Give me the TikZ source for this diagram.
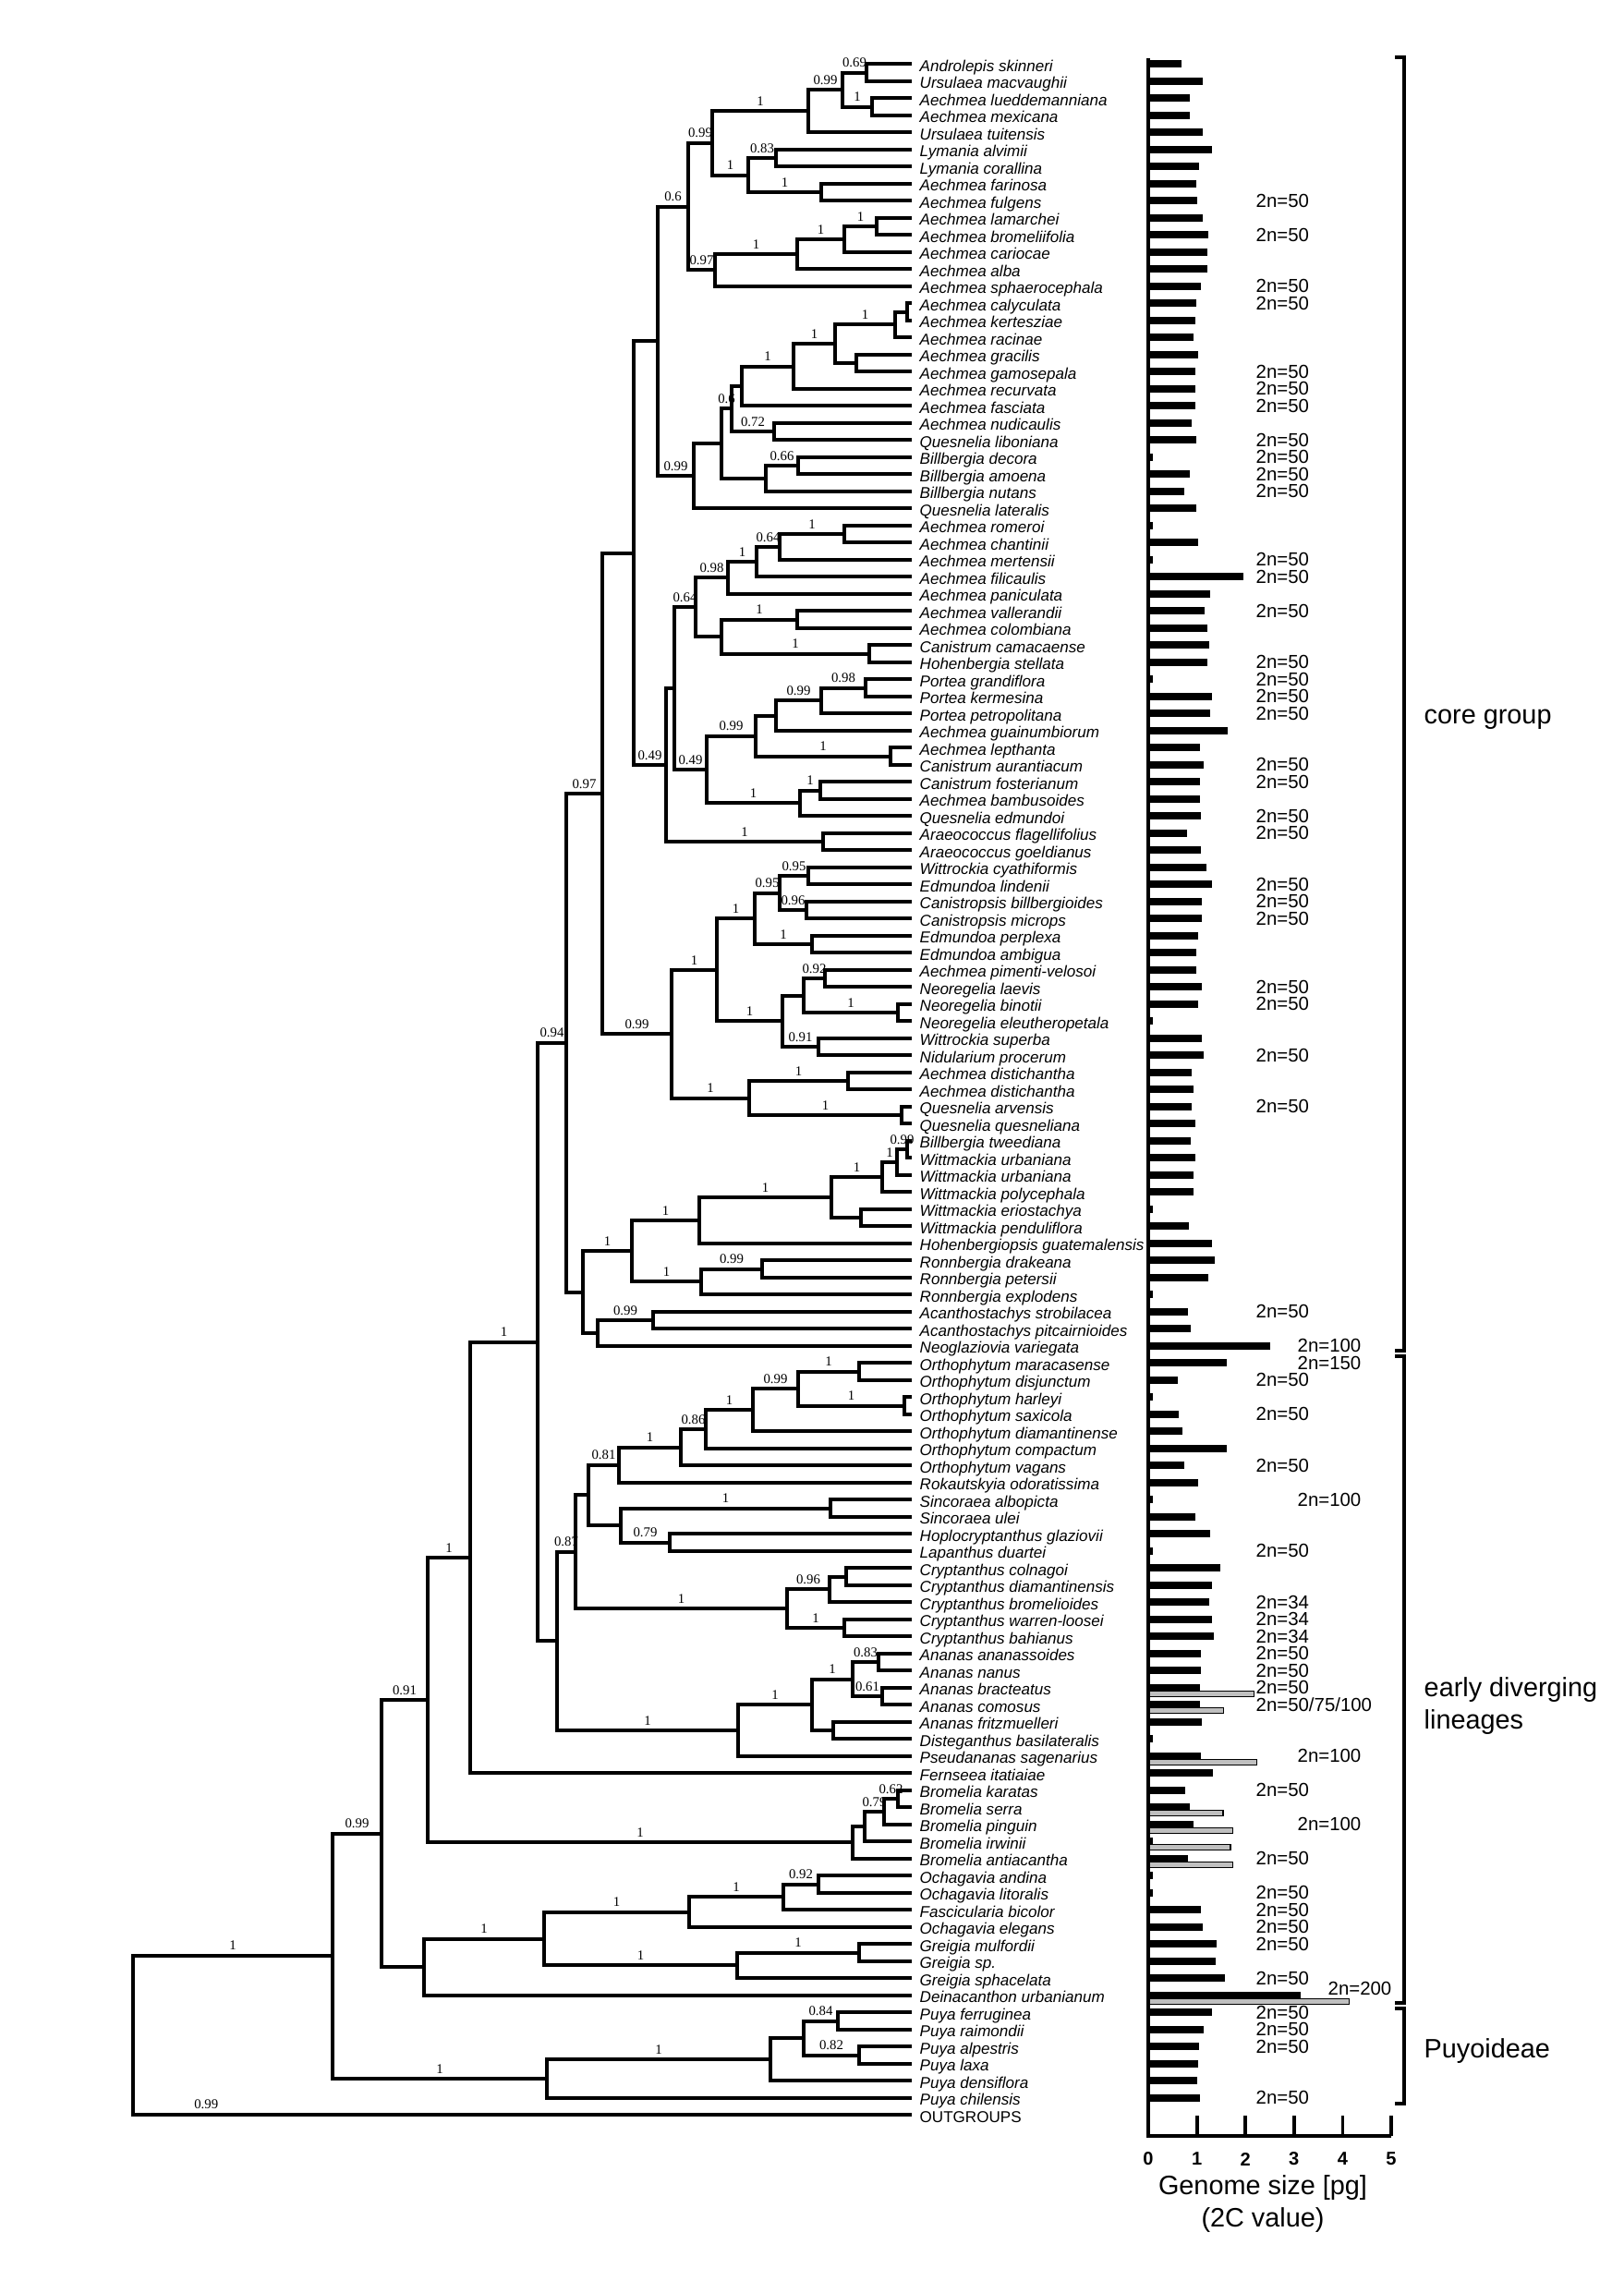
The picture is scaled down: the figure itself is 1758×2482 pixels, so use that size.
\documentclass[tikz,border=0pt]{standalone}
\usepackage{fontspec}
\setmainfont{Liberation Serif}
\setsansfont{Liberation Sans}
\usetikzlibrary{calc}

\tikzset{
  branch/.style={line width=0.4mm},
  support/.style={pos=.75, above, inner sep=0.5mm, font=\fontsize{4.2}{5}\selectfont},
  taxon/.style={anchor=mid west, inner sep=0pt, font=\sffamily\itshape\fontsize{4.85}{5.5}\selectfont},
  chrom/.style={anchor=west, inner sep=0pt, font=\sffamily\fontsize{5.8}{6}\selectfont},
  group/.style={anchor=mid west, inner sep=0pt, font=\sffamily\fontsize{8.2}{9.8}\selectfont},
  bracket/.style={line width=0.38mm},
  axis/.style={line width=0.38mm},
  gbar/.style={fill=black!25, draw=black, line width=0.12mm},
}

% clade: name, x, upper child, its support, lower child, its support
\newcommand{\clade}[6]{%
  \coordinate (tmp) at ($(#3)!.5!(#5)$);
  \coordinate (#1) at (#2,0 |- tmp);
  \draw[branch] (#1) |- (#3);
  \draw[branch] (#1) |- (#5);
  \ifx\relax#4\relax\else\path (#1) |- node[support] {#4} (#3);\fi
  \ifx\relax#6\relax\else\path (#1) |- node[support] {#6} (#5);\fi
}

\begin{document}
\begin{tikzpicture}[x=0.01cm, y=-0.01cm]
  \path[use as bounding box, fill=white] (0,0) rectangle (1758,2482);

  % Taxa
  \foreach \name [count=\i] in {Androlepis skinneri, Ursulaea macvaughii, Aechmea lueddemanniana,
    Aechmea mexicana, Ursulaea tuitensis, Lymania alvimii, Lymania corallina, Aechmea farinosa,
    Aechmea fulgens, Aechmea lamarchei, Aechmea bromeliifolia, Aechmea cariocae, Aechmea alba,
    Aechmea sphaerocephala, Aechmea calyculata, Aechmea kertesziae, Aechmea racinae,
    Aechmea gracilis, Aechmea gamosepala, Aechmea recurvata, Aechmea fasciata, Aechmea nudicaulis,
    Quesnelia liboniana, Billbergia decora, Billbergia amoena, Billbergia nutans,
    Quesnelia lateralis, Aechmea romeroi, Aechmea chantinii, Aechmea mertensii, Aechmea filicaulis,
    Aechmea paniculata, Aechmea vallerandii, Aechmea colombiana, Canistrum camacaense,
    Hohenbergia stellata, Portea grandiflora, Portea kermesina, Portea petropolitana,
    Aechmea guainumbiorum, Aechmea lepthanta, Canistrum aurantiacum, Canistrum fosterianum,
    Aechmea bambusoides, Quesnelia edmundoi, Araeococcus flagellifolius, Araeococcus goeldianus,
    Wittrockia cyathiformis, Edmundoa lindenii, Canistropsis billbergioides, Canistropsis microps,
    Edmundoa perplexa, Edmundoa ambigua, Aechmea pimenti-velosoi, Neoregelia laevis,
    Neoregelia binotii, Neoregelia eleutheropetala, Wittrockia superba, Nidularium procerum,
    Aechmea distichantha, Aechmea distichantha, Quesnelia arvensis, Quesnelia quesneliana,
    Billbergia tweediana, Wittmackia urbaniana, Wittmackia urbaniana, Wittmackia polycephala,
    Wittmackia eriostachya, Wittmackia penduliflora, Hohenbergiopsis guatemalensis,
    Ronnbergia drakeana, Ronnbergia petersii, Ronnbergia explodens, Acanthostachys strobilacea,
    Acanthostachys pitcairnioides, Neoglaziovia variegata, Orthophytum maracasense,
    Orthophytum disjunctum, Orthophytum harleyi, Orthophytum saxicola, Orthophytum diamantinense,
    Orthophytum compactum, Orthophytum vagans, Rokautskyia odoratissima, Sincoraea albopicta,
    Sincoraea ulei, Hoplocryptanthus glaziovii, Lapanthus duartei, Cryptanthus colnagoi,
    Cryptanthus diamantinensis, Cryptanthus bromelioides, Cryptanthus warren-loosei,
    Cryptanthus bahianus, Ananas ananassoides, Ananas nanus, Ananas bracteatus, Ananas comosus,
    Ananas fritzmuelleri, Disteganthus basilateralis, Pseudananas sagenarius, Fernseea itatiaiae,
    Bromelia karatas, Bromelia serra, Bromelia pinguin, Bromelia irwinii, Bromelia antiacantha,
    Ochagavia andina, Ochagavia litoralis, Fascicularia bicolor, Ochagavia elegans,
    Greigia mulfordii, Greigia sp., Greigia sphacelata, Deinacanthon urbanianum, Puya ferruginea,
    Puya raimondii, Puya alpestris, Puya laxa, Puya densiflora, Puya chilensis} {
    \coordinate (l\i) at (987,{69.3+18.5*(\i-1)});
    \node[taxon] (t\i) at (995,{69.3+18.5*(\i-1)}) {\name};
  }
  \coordinate (l121) at (987,2289.3);
  \node[taxon, font=\sffamily\fontsize{4.85}{5.5}\selectfont] (t121) at (995,2289.3) {OUTGROUPS};

  % Core group
  \clade{c1}{938}{l1}{}{l2}{}
  \clade{c2}{944}{l3}{}{l4}{}
  \clade{c3}{912}{c1}{0.69}{c2}{1}
  \clade{c4}{875}{c3}{0.99}{l5}{}
  \clade{c5}{840}{l6}{}{l7}{}
  \clade{c6}{889}{l8}{}{l9}{}
  \clade{c7}{810}{c5}{0.83}{c6}{1}
  \clade{c8}{771}{c4}{1}{c7}{1}
  \clade{c9}{949}{l10}{}{l11}{}
  \clade{c10}{914}{c9}{1}{l12}{}
  \clade{c11}{863}{c10}{1}{l13}{}
  \clade{c12}{774}{c11}{1}{l14}{}
  \clade{c13}{745}{c8}{0.99}{c12}{0.97}
  \clade{c14}{982}{l15}{}{l16}{}
  \clade{c15}{969}{c14}{}{l17}{}
  \clade{c16}{927}{l18}{}{l19}{}
  \clade{c17}{904}{c15}{1}{c16}{}
  \clade{c18}{859}{c17}{1}{l20}{}
  \clade{c19}{803}{c18}{1}{l21}{}
  \clade{c20}{838}{l22}{}{l23}{}
  \clade{c21}{792}{c19}{}{c20}{0.72}
  \clade{c22}{864}{l24}{}{l25}{}
  \clade{c23}{829}{c22}{0.66}{l26}{}
  \clade{c24}{781}{c21}{0.6}{c23}{}
  \clade{c25}{751}{c24}{}{l27}{}
  \clade{c26}{712}{c13}{0.6}{c25}{0.99}
  \clade{c27}{914}{l28}{}{l29}{}
  \clade{c28}{844}{c27}{1}{l30}{}
  \clade{c29}{819}{c28}{0.64}{l31}{}
  \clade{c30}{788}{c29}{1}{l32}{}
  \clade{c31}{863}{l33}{}{l34}{}
  \clade{c32}{941}{l35}{}{l36}{}
  \clade{c33}{781}{c31}{1}{c32}{1}
  \clade{c34}{753}{c30}{0.98}{c33}{}
  \clade{c35}{937}{l37}{}{l38}{}
  \clade{c36}{889}{c35}{0.98}{l39}{}
  \clade{c37}{840}{c36}{0.99}{l40}{}
  \clade{c39}{964}{l41}{}{l42}{}
  \clade{c38}{818}{c37}{}{c39}{1}
  \clade{c40}{888}{l43}{}{l44}{}
  \clade{c41}{866}{c40}{1}{l45}{}
  \clade{c42}{765}{c38}{0.99}{c41}{1}
  \clade{c43}{730}{c34}{0.64}{c42}{0.49}
  \clade{c44}{891}{l46}{}{l47}{}
  \clade{c45}{721}{c43}{}{c44}{1}
  \clade{c46}{686}{c26}{}{c45}{0.49}
  \clade{c47}{875}{l48}{}{l49}{}
  \clade{c48}{873}{l50}{}{l51}{}
  \clade{c49}{844}{c47}{0.95}{c48}{0.96}
  \clade{c50}{879}{l52}{}{l53}{}
  \clade{c51}{817}{c49}{0.95}{c50}{1}
  \clade{c52}{893}{l54}{}{l55}{}
  \clade{c53}{972}{l56}{}{l57}{}
  \clade{c54}{870}{c52}{0.92}{c53}{1}
  \clade{c55}{886}{l58}{}{l59}{}
  \clade{c56}{847}{c54}{}{c55}{0.91}
  \clade{c57}{776}{c51}{1}{c56}{1}
  \clade{c58}{918}{l60}{}{l61}{}
  \clade{c59}{976}{l62}{}{l63}{}
  \clade{c60}{811}{c58}{1}{c59}{1}
  \clade{c61}{727}{c57}{1}{c60}{1}
  \clade{c62}{652}{c46}{}{c61}{0.99}
  \clade{c63}{982}{l64}{}{l65}{}
  \clade{c64}{971}{c63}{0.99}{l66}{}
  \clade{c65}{955}{c64}{1}{l67}{}
  \clade{c66}{932}{l68}{}{l69}{}
  \clade{c67}{900}{c65}{1}{c66}{}
  \clade{c68}{757}{c67}{1}{l70}{}
  \clade{c69}{825}{l71}{}{l72}{}
  \clade{c70}{759}{c69}{0.99}{l73}{}
  \clade{c71}{684}{c68}{1}{c70}{1}
  \clade{c72}{707}{l74}{}{l75}{}
  \clade{c73}{647}{c72}{0.99}{l76}{}
  \clade{c74}{631}{c71}{1}{c73}{}
  \clade{c75}{613}{c62}{0.97}{c74}{}

  % Early diverging lineages
  \clade{c76}{930}{l77}{}{l78}{}
  \clade{c77}{979}{l79}{}{l80}{}
  \clade{c78}{864}{c76}{1}{c77}{1}
  \clade{c79}{815}{c78}{0.99}{l81}{}
  \clade{c80}{764}{c79}{1}{l82}{}
  \clade{c81}{737}{c80}{0.86}{l83}{}
  \clade{c82}{670}{c81}{1}{l84}{}
  \clade{c83}{899}{l85}{}{l86}{}
  \clade{c84}{725}{l87}{}{l88}{}
  \clade{c85}{672}{c83}{1}{c84}{0.79}
  \clade{c86}{637}{c82}{0.81}{c85}{}
  \clade{c87}{916}{l89}{}{l90}{}
  \clade{c88}{898}{c87}{}{l91}{}
  \clade{c89}{914}{l92}{}{l93}{}
  \clade{c90}{852}{c88}{0.96}{c89}{1}
  \clade{c91}{623}{c86}{}{c90}{1}
  \clade{c92}{951}{l94}{}{l95}{}
  \clade{c93}{955}{l96}{}{l97}{}
  \clade{c94}{923}{c92}{0.83}{c93}{0.61}
  \clade{c95}{902}{l98}{}{l99}{}
  \clade{c96}{879}{c94}{1}{c95}{}
  \clade{c97}{799}{c96}{1}{l100}{}
  \clade{c98}{603}{c91}{0.87}{c97}{1}
  \clade{c99}{582}{c75}{0.94}{c98}{}
  \clade{c100}{509}{c99}{1}{l101}{}
  \clade{c101}{972}{l102}{}{l103}{}
  \clade{c102}{957}{c101}{0.62}{l104}{}
  \clade{c103}{936}{c102}{0.79}{l105}{}
  \clade{c104}{923}{c103}{}{l106}{}
  \clade{c105}{463}{c100}{1}{c104}{1}
  \clade{c106}{886}{l107}{}{l108}{}
  \clade{c107}{848}{c106}{0.92}{l109}{}
  \clade{c108}{746}{c107}{1}{l110}{}
  \clade{c109}{930}{l111}{}{l112}{}
  \clade{c110}{798}{c109}{1}{l113}{}
  \clade{c111}{589}{c108}{1}{c110}{1}
  \clade{c112}{459}{c111}{1}{l114}{}
  \clade{c113}{413}{c105}{0.91}{c112}{}

  % Puyoideae and root
  \clade{c114}{907}{l115}{}{l116}{}
  \clade{c115}{930}{l117}{}{l118}{}
  \clade{c116}{870}{c114}{0.84}{c115}{0.82}
  \clade{c117}{834}{c116}{}{l119}{}
  \clade{c118}{592}{c117}{1}{l120}{}
  \clade{c119}{360}{c113}{0.99}{c118}{1}
  \coordinate (tmp) at ($(c119)!.5!(l121)$);
  \coordinate (root) at (144,0 |- tmp);
  \draw[branch] (root) |- node[support] {1} (c119);
  \draw[branch] (root) |- node[support, pos=.547] {0.99} (l121);

  % Genome size bars
  \foreach \i/\v in {96/2.17, 97/1.55, 100/2.24, 103/1.54, 104/1.74, 105/1.69, 106/1.74, 114/4.13}
    \filldraw[gbar] (1243,{69.3+18.5*(\i-1)+3.5}) rectangle ++({52.6*\v},6);
  \foreach \i/\v in {1/0.69, 2/1.12, 3/0.85, 4/0.85, 5/1.12, 6/1.31, 7/1.04, 8/0.99, 9/1.01,
    10/1.13, 11/1.24, 12/1.21, 13/1.22, 14/1.09, 15/0.98, 16/0.97, 17/0.94, 18/1.03, 19/0.96,
    20/0.96, 21/0.96, 22/0.89, 23/0.98, 24/0.1, 25/0.85, 26/0.74, 27/0.98, 28/0.1, 29/1.03,
    30/0.1, 31/1.95, 32/1.28, 33/1.15, 34/1.21, 35/1.26, 36/1.21, 37/0.1, 38/1.31, 39/1.28,
    40/1.63, 41/1.06, 42/1.14, 43/1.06, 44/1.07, 45/1.09, 46/0.80, 47/1.08, 48/1.19, 49/1.32,
    50/1.10, 51/1.10, 52/1.02, 53/0.98, 54/0.98, 55/1.10, 56/1.03, 57/0.1, 58/1.11, 59/1.14,
    60/0.90, 61/0.94, 62/0.90, 63/0.96, 64/0.88, 65/0.96, 66/0.94, 67/0.94, 68/0.1, 69/0.83,
    70/1.31, 71/1.36, 72/1.24, 73/0.1, 74/0.81, 75/0.87, 76/2.51, 77/1.62, 78/0.60, 79/0.1,
    80/0.63, 81/0.70, 82/1.62, 83/0.75, 84/1.02, 85/0.1, 86/0.96, 87/1.28, 88/0.1, 89/1.49,
    90/1.32, 91/1.26, 92/1.32, 93/1.34, 94/1.08, 95/1.08, 96/1.07, 97/1.06, 98/1.11, 99/0.1,
    100/1.09, 101/1.33, 102/0.76, 103/0.85, 104/0.93, 105/0.1, 106/0.81, 107/0.1, 108/0.1,
    109/1.09, 110/1.12, 111/1.41, 112/1.38, 113/1.57, 114/3.13, 115/1.31, 116/1.14, 117/1.05,
    118/1.03, 119/1.01, 120/1.07}
    \fill (1243,{69.3+18.5*(\i-1)-4}) rectangle ++({52.6*\v},8);

  % Chromosome numbers
  \foreach \i/\t in {9/2n=50, 11/2n=50, 14/2n=50, 15/2n=50, 19/2n=50, 20/2n=50, 21/2n=50,
    23/2n=50, 24/2n=50, 25/2n=50, 26/2n=50, 30/2n=50, 31/2n=50, 33/2n=50, 36/2n=50, 37/2n=50,
    38/2n=50, 39/2n=50, 42/2n=50, 43/2n=50, 45/2n=50, 46/2n=50, 49/2n=50, 50/2n=50, 51/2n=50,
    55/2n=50, 56/2n=50, 59/2n=50, 62/2n=50, 74/2n=50, 78/2n=50, 80/2n=50, 83/2n=50, 88/2n=50,
    91/2n=34, 92/2n=34, 93/2n=34, 94/2n=50, 95/2n=50, 96/2n=50, 102/2n=50, 106/2n=50,
    108/2n=50, 109/2n=50, 110/2n=50, 111/2n=50, 113/2n=50, 115/2n=50, 116/2n=50, 117/2n=50,
    120/2n=50}
    \node[chrom] (k\i) at (1359,{69.3+18.5*(\i-1)}) {\t};
  \foreach \i/\t in {76/2n=100, 77/2n=150, 85/2n=100, 100/2n=100, 104/2n=100}
    \node[chrom] (k\i) at (1404,{69.3+18.5*(\i-1)}) {\t};
  \node[chrom] (k97) at (1359,1845.3) {2n=50/75/100};
  \node[chrom] (k114) at (1437,2152.8) {2n=200};

  % Axis
  \draw[axis] (1243,63) -- (1243,2312) -- (1506,2312);
  \foreach \k in {1,...,5}
    \draw[axis] ({1243+52.6*\k},2312) -- ++(0,-22);
  \foreach \k in {0,...,5}
    \node[font=\sffamily\bfseries\fontsize{5.7}{6}\selectfont] (tick\k) at ({1243+52.6*\k},2337) {\k};
  \node[font=\sffamily\fontsize{8.2}{9}\selectfont] (xlab) at (1367,2368) {Genome size [pg]};
  \node[font=\sffamily\fontsize{8.2}{9}\selectfont] (xlab2) at (1367,2403) {(2C value)};

  % Brackets
  \draw[bracket] (1510,62) -- (1520,62) -- (1520,1462) -- (1510,1462);
  \draw[bracket] (1510,1468) -- (1520,1468) -- (1520,2168) -- (1510,2168);
  \draw[bracket] (1510,2174) -- (1520,2174) -- (1520,2277) -- (1510,2277);
  \node[group] (core) at (1541,775) {core group};
  \node[group] (early) at (1541,1828) {early diverging};
  \node[group] (early2) at (1541,1863) {lineages};
  \node[group] (puyo) at (1541,2219) {Puyoideae};
\end{tikzpicture}
\end{document}
